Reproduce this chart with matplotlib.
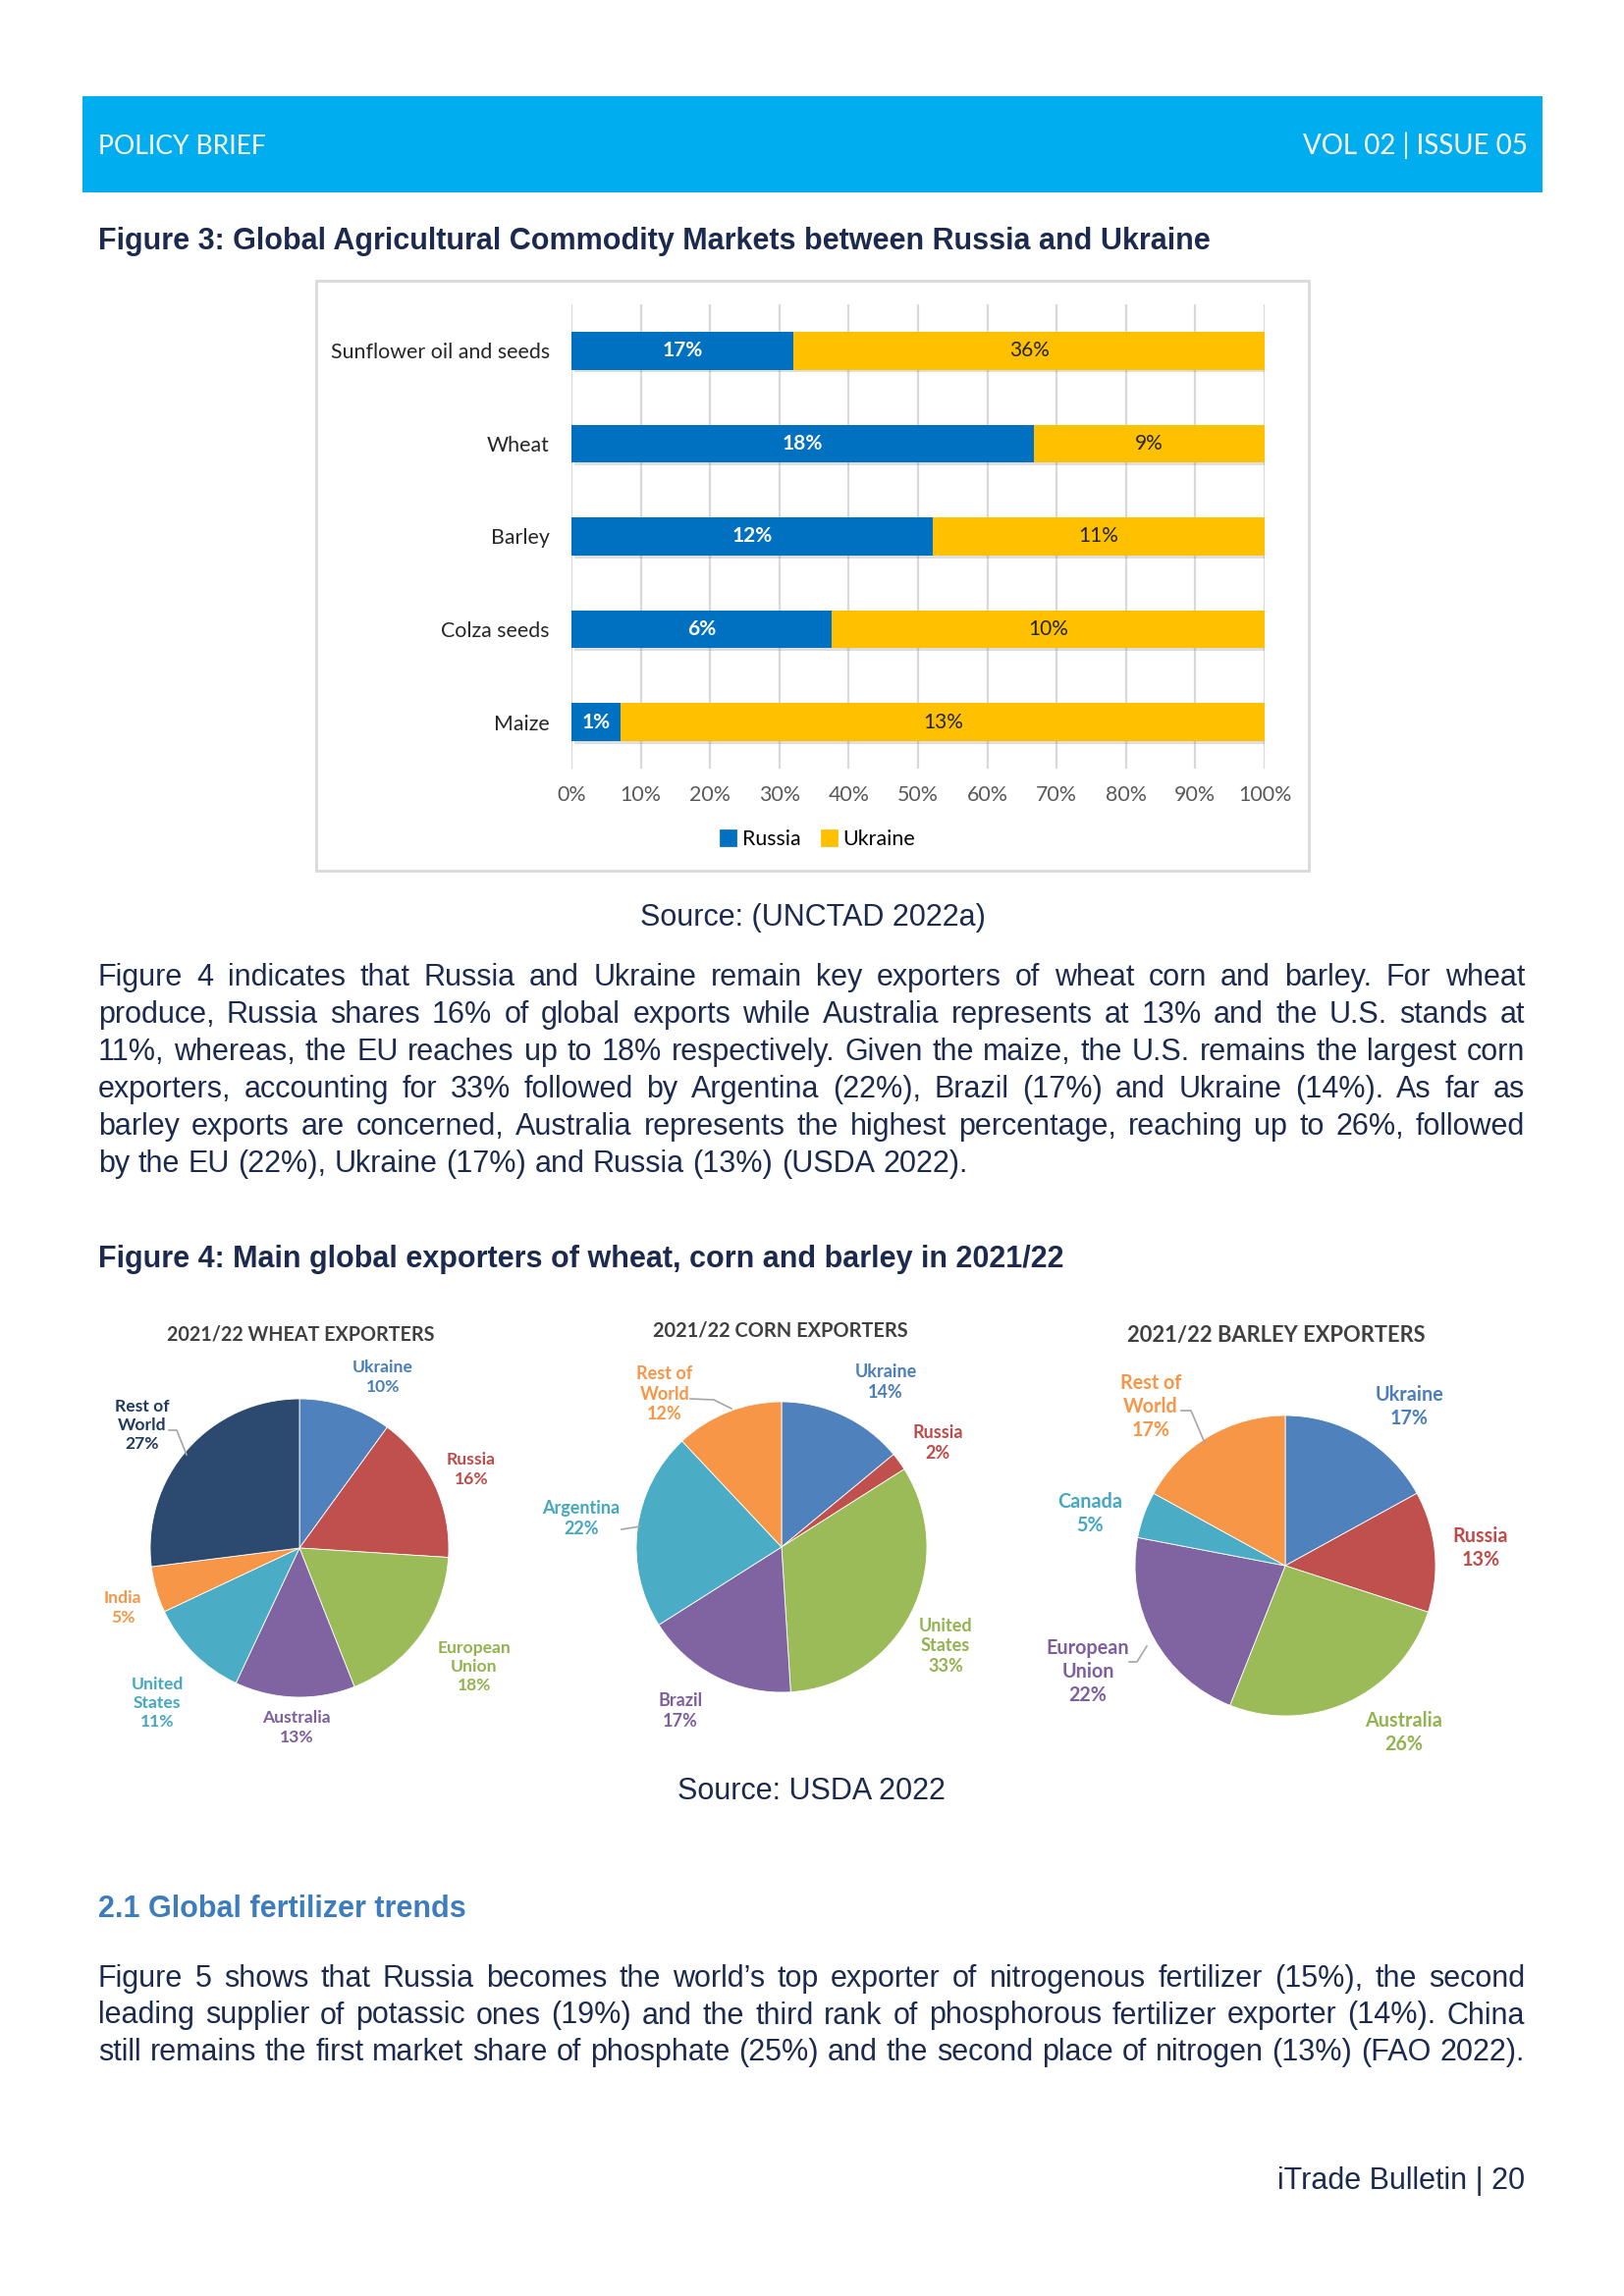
import numpy as np
import matplotlib
matplotlib.use("Agg")
import matplotlib.pyplot as plt
import matplotlib.patheffects as pe
from matplotlib.patches import Rectangle, Patch
from matplotlib.lines import Line2D

# ---- data ----
bar_categories = ["Sunflower oil and seeds", "Wheat", "Barley", "Colza seeds", "Maize"]
russia_share = [17, 18, 12, 6, 1]
ukraine_share = [36, 9, 11, 10, 13]
x_ticks = [0, 10, 20, 30, 40, 50, 60, 70, 80, 90, 100]

wheat_names = ["Ukraine", "Russia", "European\nUnion", "Australia", "United\nStates", "India", "Rest of\nWorld"]
wheat_values = [10, 16, 18, 13, 11, 5, 27]
corn_names = ["Ukraine", "Russia", "United\nStates", "Brazil", "Argentina", "Rest of\nWorld"]
corn_values = [14, 2, 33, 17, 22, 12]
barley_names = ["Ukraine", "Russia", "Australia", "European\nUnion", "Canada", "Rest of\nWorld"]
barley_values = [17, 13, 26, 22, 5, 17]

para1 = [
    "Figure 4 indicates that Russia and Ukraine remain key exporters of wheat corn and barley. For wheat",
    "produce, Russia shares 16% of global exports while Australia represents at 13% and the U.S. stands at",
    "11%, whereas, the EU reaches up to 18% respectively. Given the maize, the U.S. remains the largest corn",
    "exporters, accounting for 33% followed by Argentina (22%), Brazil (17%) and Ukraine (14%). As far as",
    "barley exports are concerned, Australia represents the highest percentage, reaching up to 26%, followed",
    "by the EU (22%), Ukraine (17%) and Russia (13%) (USDA 2022).",
]
para2 = [
    "Figure 5 shows that Russia becomes the world\u2019s top exporter of nitrogenous fertilizer (15%), the second",
    "leading supplier of potassic ones (19%) and the third rank of phosphorous fertilizer exporter (14%). China",
    "still remains the first market share of phosphate (25%) and the second place of nitrogen (13%) (FAO 2022).",
]

# ---- page setup (pixel coords from top-left) ----
W, H = 1654, 2339
fig = plt.figure(figsize=(W / 200, H / 200), dpi=200)
renderer = fig.canvas.get_renderer()

def fx(x):
    return x / W

def fy(y):
    return 1 - y / H

ink = "#1b2a4e"
body = "Liberation Sans"
chartfont = "Lato"
LEFT, RIGHT = 100, 1553

# header band
fig.add_artist(Rectangle((fx(84), fy(196)), (1571 - 84) / W, (196 - 98) / H,
                         transform=fig.transFigure, color="#00adef", lw=0))
fig.text(fx(100), fy(157), "POLICY BRIEF", color="white", fontsize=9.6,
         family=chartfont, va="baseline")
fig.text(fx(1556), fy(157), "VOL 02 | ISSUE 05", color="white", fontsize=10,
         family=chartfont, va="baseline", ha="right")

fig.text(fx(LEFT), fy(254), "Figure 3: Global Agricultural Commodity Markets between Russia and Ukraine",
         fontsize=11, weight="bold", color=ink, family=body, va="baseline")

# ---- figure 3: stacked 100% bars ----
fig.add_artist(Rectangle((fx(322), fy(887)), (1333 - 322) / W, (887 - 286) / H,
                         transform=fig.transFigure, fill=False, ec="#d9d9d9", lw=1.0))

ru = np.array(russia_share, dtype=float)
ua = np.array(ukraine_share, dtype=float)
ru_pct = ru / (ru + ua) * 100
ua_pct = ua / (ru + ua) * 100
ypos = np.arange(len(bar_categories))

RU_C, UA_C = "#0070c0", "#ffc000"
ax = fig.add_axes([fx(582), fy(783), (1288 - 582) / W, (783 - 310) / H])
shadow = [pe.SimplePatchShadow(offset=(1.0, -1.0), alpha=0.25, shadow_rgbFace="#808080"), pe.Normal()]
b1 = ax.barh(ypos, ru_pct, height=0.41, color=RU_C, zorder=3)
b2 = ax.barh(ypos, ua_pct, left=ru_pct, height=0.41, color=UA_C, zorder=3)
for b in list(b1) + list(b2):
    b.set_path_effects(shadow)
for i in range(len(ypos)):
    ax.text(ru_pct[i] / 2, ypos[i], f"{russia_share[i]}%", ha="center", va="center",
            color="white", weight="bold", fontsize=7.5, family=chartfont, zorder=4)
    ax.text(ru_pct[i] + ua_pct[i] / 2, ypos[i], f"{ukraine_share[i]}%", ha="center", va="center",
            color="#262626", fontsize=7.5, family=chartfont, zorder=4)
ax.set_xlim(0, 100)
ax.set_ylim(len(ypos) - 0.5, -0.5)
ax.set_yticks(ypos)
ax.set_yticklabels(bar_categories, family=chartfont, fontsize=7.7, color="#262626")
ax.set_xticks(x_ticks)
ax.set_xticklabels([f"{t}%" for t in x_ticks], family=chartfont, fontsize=7.7, color="#595959")
ax.tick_params(axis="both", length=0)
ax.tick_params(axis="y", pad=8)
ax.tick_params(axis="x", pad=6)
ax.grid(axis="x", color="#d9d9d9", lw=0.8, zorder=0)
for s in ax.spines.values():
    s.set_visible(False)

fig.legend(handles=[Patch(color=RU_C, label="Russia"), Patch(color=UA_C, label="Ukraine")],
           loc="center", bbox_to_anchor=(fx(833), fy(855)), ncol=2, frameon=False,
           handlelength=0.7, handleheight=0.7, handletextpad=0.3, columnspacing=1.0,
           prop={"family": chartfont, "size": 7.7})

fig.text(fx(828), fy(943), "Source: (UNCTAD 2022a)", fontsize=11, color=ink, family=body,
         ha="center", va="baseline")

# ---- justified paragraphs ----
def paragraph(lines, y0, step, justify_last=False):
    for k, line in enumerate(lines):
        y = y0 + k * step
        words = line.split(" ")
        objs = [fig.text(0, fy(y), w, fontsize=11, color=ink, family=body, va="baseline") for w in words]
        widths = [o.get_window_extent(renderer).width for o in objs]
        if (k < len(lines) - 1 or justify_last) and len(words) > 1:
            gap = (RIGHT - LEFT - sum(widths)) / (len(words) - 1)
        else:
            gap = 8.5
        x = LEFT
        for o, w in zip(objs, widths):
            o.set_x(fx(x))
            x += w + gap

paragraph(para1, 1004, 38)

fig.text(fx(LEFT), fy(1291), "Figure 4: Main global exporters of wheat, corn and barley in 2021/22",
         fontsize=11, weight="bold", color=ink, family=body, va="baseline")

# ---- figure 4: three pies ----
label_col = {"#4f81bd": "#4a7ebb", "#c0504d": "#be4b48", "#9bbb59": "#93b350", "#8064a2": "#7d5fa0",
             "#4bacc6": "#45a7c2", "#f79646": "#f79646", "#2c4a70": "#1f3a60"}

wheat_colors = ["#4f81bd", "#c0504d", "#9bbb59", "#8064a2", "#4bacc6", "#f79646", "#2c4a70"]
corn_colors = ["#4f81bd", "#c0504d", "#9bbb59", "#8064a2", "#4bacc6", "#f79646"]
barley_colors = ["#4f81bd", "#c0504d", "#9bbb59", "#8064a2", "#4bacc6", "#f79646"]

wheat_lab_xy = [(390, 1403), (480, 1497), (483, 1698), (302, 1760), (160, 1735), (125, 1638), (145, 1452)]
corn_lab_xy = [(902, 1408), (955, 1470), (963, 1677), (693, 1743), (592, 1547), (677, 1420)]
barley_lab_xy = [(1435, 1433), (1508, 1577), (1430, 1765), (1108, 1703), (1110, 1542), (1172, 1433)]

# title, title pos, centre, radius, names, values, colours, label pos, title size, label size
pies = [
    ("2021/22 WHEAT EXPORTERS", (306, 1360), (305, 1577), 152, wheat_names, wheat_values,
     wheat_colors, wheat_lab_xy, 7.1, 6.3),
    ("2021/22 CORN EXPORTERS", (795, 1355), (796, 1576), 148, corn_names, corn_values,
     corn_colors, corn_lab_xy, 7.2, 6.5),
    ("2021/22 BARLEY EXPORTERS", (1300, 1360), (1309, 1595), 153, barley_names, barley_values,
     barley_colors, barley_lab_xy, 7.9, 7.1),
]
for title, tpos, (cx, cy), r, names, vals, cols, labxy, tsize, lsize in pies:
    pax = fig.add_axes([fx(cx - r), fy(cy + r), 2 * r / W, 2 * r / H])
    pax.pie(vals, colors=cols, startangle=90, counterclock=False,
            wedgeprops={"linewidth": 0.3, "edgecolor": "white"})
    pax.set_xlim(-1, 1)
    pax.set_ylim(-1, 1)
    pax.set_aspect("equal")
    pax.axis("off")
    fig.text(fx(tpos[0]), fy(tpos[1]), title, ha="center", va="center", family=chartfont,
             weight="bold", fontsize=tsize, color="#404040")
    for name, v, c, (lx, ly) in zip(names, vals, cols, labxy):
        fig.text(fx(lx), fy(ly), f"{name}\n{v}%", ha="center", va="center", family=chartfont,
                 weight="bold", fontsize=lsize, color=label_col[c], linespacing=1.25)

leaders = [
    [(172, 1457), (180, 1457), (190, 1482)],
    [(703, 1425), (727, 1426), (745, 1435)],
    [(633, 1558), (652, 1555)],
    [(1203, 1437), (1213, 1437), (1227, 1470)],
    [(1150, 1693), (1158, 1693), (1168, 1677)],
]
for pts in leaders:
    fig.add_artist(Line2D([fx(p[0]) for p in pts], [fy(p[1]) for p in pts],
                          transform=fig.transFigure, color="#a6a6a6", lw=0.6))

fig.text(fx(826), fy(1833), "Source: USDA 2022", fontsize=11, color=ink, family=body,
         ha="center", va="baseline")

fig.text(fx(LEFT), fy(1953), "2.1 Global fertilizer trends", fontsize=11, weight="bold",
         color="#3d7dbd", family=body, va="baseline")

paragraph(para2, 2024, 37.5, justify_last=True)

fig.text(fx(1553), fy(2230), "iTrade Bulletin | 20", fontsize=11, color=ink, family=body,
         ha="right", va="baseline")

fig.savefig("out.png", dpi=200, facecolor="white")
